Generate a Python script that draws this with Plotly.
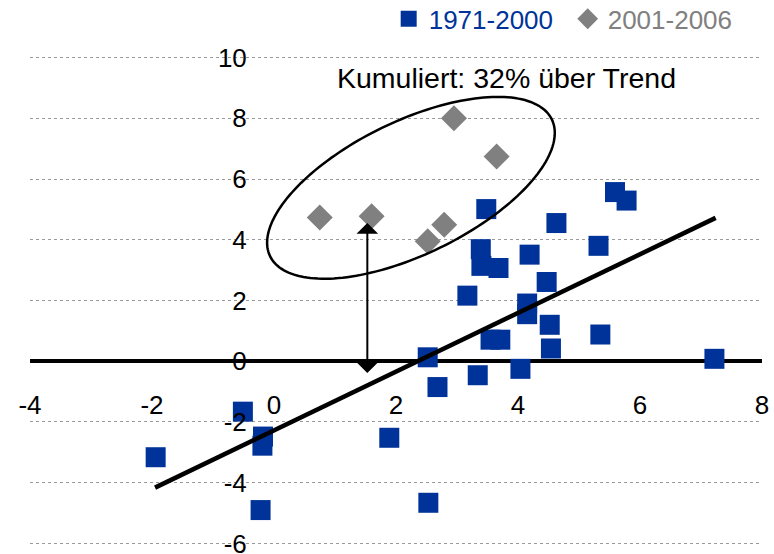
import numpy as np
import plotly.graph_objects as go

# ---- data ----
x_1971_2000 = [-1.94, -0.51, -0.18, -0.19, -0.22, 1.89, 2.53, 2.52, 2.68, 3.34,
               4.04, 3.55, 3.71, 4.15, 4.15, 4.52, 4.54, 3.17, 3.39, 3.40,
               3.68, 3.48, 4.19, 4.47, 4.63, 5.32, 5.59, 5.78, 5.35, 7.22]
y_1971_2000 = [-3.16, -1.66, -2.48, -2.78, -4.90, -2.52, -4.66, 0.13, -0.85, -0.46,
               -0.25, 0.71, 0.71, 1.55, 1.90, 1.20, 0.42, 2.16, 3.69, 3.14,
               3.07, 5.01, 3.51, 2.61, 4.55, 3.80, 5.57, 5.29, 0.88, 0.08]
x_2001_2006 = [0.75, 1.60, 2.95, 3.65, 2.79, 2.52]
y_2001_2006 = [4.73, 4.77, 8.00, 6.74, 4.49, 3.95]
trend_x = [-1.95, 7.24]
trend_y = [-4.16, 4.72]
x_ticks = [-4, -2, 0, 2, 4, 6, 8]
y_ticks = [-6, -4, -2, 0, 2, 4, 6, 8, 10]
annotation_text = "Kumuliert: 32% über Trend"
series_names = ["1971-2000", "2001-2006"]

BLUE = "#003399"
GRAY = "#808080"
FONT = "Liberation Sans, Arial, sans-serif"

W, H = 774, 554
ML, MR, MT, MB = 30, 12, 56, 9
xr = [-4, 8]
yr = [-6.05, 10.05]
xs = (W - ML - MR) / (xr[1] - xr[0])
ys = (H - MT - MB) / (yr[1] - yr[0])

fig = go.Figure()
fig.add_trace(go.Scatter(
    x=x_1971_2000, y=y_1971_2000, mode="markers",
    name=f'<span style="color:{BLUE}">{series_names[0]}</span>',
    marker=dict(symbol="square", size=20, color=BLUE, line=dict(width=0)),
))
fig.add_trace(go.Scatter(
    x=x_2001_2006, y=y_2001_2006, mode="markers",
    name=f'<span style="color:{GRAY}">{series_names[1]}</span>',
    marker=dict(symbol="diamond", size=20, color=GRAY, line=dict(width=0)),
))
fig.add_trace(go.Scatter(
    x=trend_x, y=trend_y, mode="lines", showlegend=False,
    line=dict(color="black", width=4.5),
))

# ellipse decoration (pixel-space shape converted to data coords)
cx, cy = 2.245, 5.71
a_px, b_px, th = 156.6, 66.6, np.deg2rad(25.9)
t = np.linspace(0, 2 * np.pi, 181)
ex = cx + (a_px * np.cos(t) * np.cos(th) - b_px * np.sin(t) * np.sin(th)) / xs
ey = cy + (a_px * np.cos(t) * np.sin(th) + b_px * np.sin(t) * np.cos(th)) / ys
path = "M " + " L ".join(f"{a:.4f},{b:.4f}" for a, b in zip(ex, ey)) + " Z"
fig.add_shape(type="path", path=path, xref="x", yref="y",
              line=dict(color="black", width=2.5), layer="above")

# double-headed arrow
fig.add_annotation(x=1.53, y=4.55, ax=1.53, ay=-0.44, xref="x", yref="y",
                   axref="x", ayref="y", text="", showarrow=True,
                   arrowhead=1, startarrowhead=1, arrowside="end+start",
                   arrowsize=1.8, startarrowsize=1.8, arrowwidth=2,
                   arrowcolor="black", standoff=0, startstandoff=0)

fig.add_annotation(x=3.81, y=9.33, xref="x", yref="y", text=annotation_text,
                   showarrow=False, xanchor="center", yanchor="middle",
                   font=dict(size=28.5, color="black", family=FONT))

fig.update_layout(
    width=W, height=H,
    margin=dict(l=ML, r=MR, t=MT, b=MB, autoexpand=False),
    paper_bgcolor="white", plot_bgcolor="white",
    font=dict(family=FONT, size=26, color="black"),
    showlegend=True,
    legend=dict(orientation="h", x=0.49, y=1.076, xanchor="left", yanchor="middle",
                font=dict(size=26, family=FONT), bgcolor="rgba(0,0,0,0)",
                itemwidth=30, tracegroupgap=0,
                entrywidth=134, entrywidthmode="pixels"),
    xaxis=dict(range=xr, tickvals=x_ticks, ticktext=[str(v) for v in x_ticks],
               showgrid=False, zeroline=False, showline=False, automargin=False,
               anchor="free", position=(0 - yr[0]) / (yr[1] - yr[0]),
               ticks="outside", ticklen=21, tickcolor="rgba(0,0,0,0)",
               ticklabeloverflow="allow",
               tickfont=dict(size=26, color="black")),
    yaxis=dict(range=yr, tickvals=y_ticks, ticktext=[str(v) for v in y_ticks],
               showgrid=True, gridcolor="#9a9a9a", griddash="dot", gridwidth=1,
               zeroline=True, zerolinecolor="black", zerolinewidth=4,
               showline=False, anchor="free", automargin=False,
               position=(0 - xr[0]) / (xr[1] - xr[0]),
               ticks="outside", ticklen=22, tickcolor="rgba(0,0,0,0)",
               ticklabeloverflow="allow",
               tickfont=dict(size=26, color="black")),
)

fig.write_html("out.html", config={"displayModeBar": False},
               post_script="document.body.style.margin='0px';")
